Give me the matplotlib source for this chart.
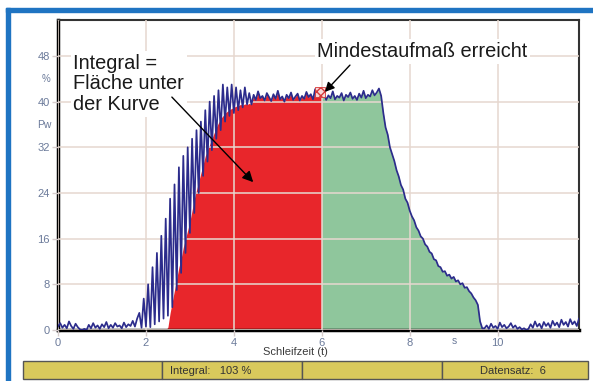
import numpy as np
import matplotlib
matplotlib.use('Agg')
import matplotlib.pyplot as plt
from matplotlib.patches import Rectangle

plt.rcParams['font.family'] = ['Liberation Sans', 'DejaVu Sans']

W, H = 593, 381

# Messkurve Pw (%) alle 0.05 s
pw_kurve = [
    # 0.00 - 1.80 Grundrauschen
    0.6, 1.2, 0.4, 0.9, 0.3, 1.5, 0.7, 0.2, 1.1, 0.5,
    0.1, 0.0, 0.2, 0.0, 0.9, 0.3, 1.2, 0.4, 0.8, 0.2,
    1.0, 0.5, 1.4, 0.3, 0.9, 0.4, 1.2, 0.6, 0.8, 0.3,
    1.3, 0.5, 1.0, 0.7, 1.6, 0.6, 2.0,
    # 1.85 - 4.40 Anstieg mit Spitzen
    3.0, 0.4, 5.5, 0.6, 8.0, 0.5, 11.0, 1.0, 13.5, 1.5,
    16.5, 2.0, 19.5, 2.5, 23.0, 4.0, 25.5, 7.0, 28.5, 10.0,
    30.5, 13.5, 32.0, 17.0, 33.5, 20.5, 35.0, 24.0, 36.5, 27.0,
    38.5, 29.5, 40.0, 31.5, 41.0, 33.5, 42.0, 35.0, 43.0, 36.5,
    42.5, 37.5, 43.0, 38.0, 42.5, 38.5, 42.0, 39.0, 42.5, 39.5,
    41.5, 39.5,
    # 4.45 - 7.35 Plateau
    41.2, 40.3, 41.8, 40.6, 41.0, 40.2, 41.5, 40.8, 40.1, 41.3,
    40.5, 41.9, 40.4, 40.9, 40.0, 41.2, 40.6, 41.6, 40.3, 40.9,
    41.4, 40.2, 41.0, 40.5, 41.7, 40.8, 41.3, 40.4, 42.2, 41.0,
    41.5, 40.9, 41.4, 40.3, 41.1, 40.6, 41.8, 40.4, 41.0, 40.7,
    41.5, 40.2, 41.2, 40.8, 41.6, 40.5, 41.0, 40.3, 41.4, 40.7,
    41.9, 40.6, 41.2, 40.9, 42.0, 41.1, 41.6, 42.3, 41.0,
    # 7.40 - 9.65 Abfall
    38.0, 35.5, 34.2, 32.0, 30.8, 29.6, 28.0, 26.9, 25.4, 24.6,
    23.0, 22.3, 20.9, 19.9, 19.2, 18.0, 17.4, 16.4, 16.0, 15.0,
    14.6, 13.7, 13.4, 12.4, 12.2, 11.2, 11.0, 10.2, 10.3, 9.5,
    9.7, 9.0, 9.3, 8.5, 8.7, 8.0, 8.2, 7.4, 7.5, 6.8,
    6.4, 5.7, 5.2, 4.4, 1.5, 0.3,
    # 9.70 - 11.85 Grundrauschen
    0.3, 0.8, 0.2, 1.1, 0.4, 0.7, 0.2, 1.3, 0.5, 0.9,
    0.3, 0.6, 1.2, 0.4, 0.8, 0.2, 0.5, 0.1, 0.3, 0.0,
    0.2, 1.0, 0.4, 1.5, 0.6, 1.1, 0.3, 1.4, 0.7, 1.2,
    0.4, 1.6, 0.8, 1.3, 0.5, 1.8, 0.9, 1.4, 0.6, 1.9,
    1.0, 1.5, 0.7, 2.0,
]
zeit = np.arange(len(pw_kurve)) * 0.05

# untere Kante der Fläche im Anstieg (2.45 - 4.40 s)
untere_huelle = [
    0.0, 0.5, 3.0, 5.0, 7.0, 9.0, 11.0, 12.5, 14.5, 16.0,
    17.5, 19.0, 21.0, 23.0, 24.5, 26.0, 27.5, 29.0, 30.5, 31.5,
    32.5, 33.5, 34.5, 35.5, 36.3, 37.0, 37.5, 38.0, 38.3, 38.6,
    38.8, 39.0, 39.2, 39.3, 39.5, 39.4, 39.6, 39.5, 39.7, 39.5,
]

t_start, t_mindest, t_ende = 2.45, 6.0, 9.65
mindest_pw = 41.7

x_ticks = [0, 2, 4, 6, 8, 10]
y_ticks = [0, 8, 16, 24, 32, 40, 48]

pw_flaeche = np.array(pw_kurve)
im_anstieg = (zeit > t_start - 0.01) & (zeit < 4.41)
pw_flaeche[im_anstieg] = untere_huelle

fig = plt.figure(figsize=(W / 100, H / 100), dpi=100)
fig.patch.set_facecolor('white')


def fx(px):
    return px / W


def fy(py):
    return 1 - py / H


ax = fig.add_axes([fx(58), fy(330), (579 - 58) / W, (330 - 20) / H])

rot = (zeit > t_start - 0.01) & (zeit < t_mindest + 0.01)
gruen = (zeit > t_mindest - 0.01) & (zeit < t_ende + 0.01)
ax.fill_between(zeit, 0, pw_flaeche, where=rot, color='#e8262b', lw=0, zorder=1)
ax.fill_between(zeit, 0, pw_flaeche, where=gruen, color='#8fc69c', lw=0, zorder=1)

ax.plot(zeit, pw_kurve, color='#2c2c8c', lw=1.25, zorder=3)
ax.scatter([t_mindest - 0.04], [mindest_pw], marker='s', s=45, facecolor='#f6d8d8',
           edgecolor='#d63a3a', hatch='xxxx', lw=0.6, zorder=4)

ax.set_xlim(0, 11.85)
ax.set_ylim(0, 54.3)
ax.set_xticks(x_ticks)
ax.set_yticks(y_ticks)
ax.set_axisbelow(False)
ax.grid(True, color='#e6d8cf', lw=1.3, alpha=0.85)
ax.tick_params(length=4, width=1, color='#d6cccc', labelsize=8, labelcolor='#6b7a9a', pad=2)

for s in ['left', 'bottom']:
    ax.spines[s].set_linewidth(2.5)
    ax.spines[s].set_color('black')
for s in ['top', 'right']:
    ax.spines[s].set_linewidth(1.5)
    ax.spines[s].set_color('#333333')

# Einheiten an den Achsen
fig.text(fx(46), fy(79), '%', fontsize=7, color='#6b7a9a', ha='center', va='center')
fig.text(fx(52), fy(125), 'Pw', fontsize=7.5, color='#6b7a9a', ha='right', va='center')
fig.text(fx(454), fy(341), 's', fontsize=7.5, color='#6b7a9a', ha='center', va='center')
fig.text(fx(295), fy(352), 'Schleifzeit (t)', fontsize=8, color='#3a3a3a', ha='center', va='center')

# Beschriftungen mit Pfeilen
ax.text(0.35, 48.4, 'Integral =\nFläche unter\nder Kurve', fontsize=14.4, color='#1a1a1a',
        va='top', ha='left', linespacing=1.12, zorder=5,
        bbox=dict(facecolor='white', edgecolor='none', pad=2))
ax.annotate('', xy=(4.44, 25.9), xytext=(2.59, 40.8),
            arrowprops=dict(arrowstyle='-|>', color='black', lw=1, mutation_scale=16,
                            shrinkA=0, shrinkB=0), zorder=5)
ax.text(5.9, 47.8, 'Mindestaufmaß erreicht', fontsize=14.4, color='#1a1a1a',
        va='baseline', ha='left', zorder=5,
        bbox=dict(facecolor='white', edgecolor='none', pad=2))
ax.annotate('', xy=(6.07, 41.7), xytext=(6.64, 46.4),
            arrowprops=dict(arrowstyle='-|>', color='black', lw=1, mutation_scale=14,
                            shrinkA=0, shrinkB=0), zorder=5)

# blauer Fensterrahmen
blau = '#1f74c2'
fig.patches.append(Rectangle((fx(6), fy(12)), fx(593 - 6), 4 / H, transform=fig.transFigure,
                             color=blau, zorder=0))
fig.patches.append(Rectangle((fx(6), 0), fx(4), fy(8), transform=fig.transFigure,
                             color=blau, zorder=0))

# Statusleiste
felder = [(23, 162), (162, 302), (302, 442), (442, 588)]
for x0, x1 in felder:
    fig.patches.append(Rectangle((fx(x0), fy(379)), fx(x1 - x0), 18 / H, transform=fig.transFigure,
                                 facecolor='#d9c95c', edgecolor='#555555', lw=1, zorder=0))
fig.text(fx(170), fy(371), 'Integral:   103 %', fontsize=8, color='#333333', va='center')
fig.text(fx(480), fy(371), 'Datensatz:  6', fontsize=8, color='#333333', va='center')

fig.savefig('out.png', dpi=100)
